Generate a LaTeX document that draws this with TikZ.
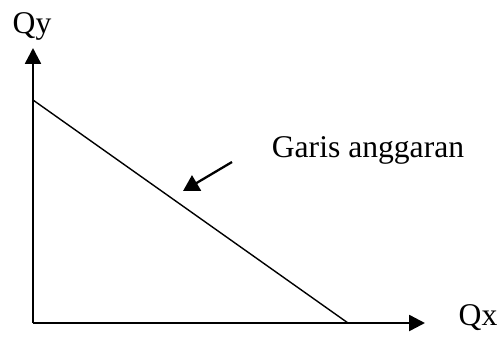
\documentclass[tikz,border=0pt]{standalone}
\usepackage{fontspec}
\setmainfont{Liberation Serif}
\usetikzlibrary{arrows.meta}

\begin{document}
\begin{tikzpicture}[x=0.02cm, y=-0.02cm,
  axis/.style={line width=1.4pt, -{Triangle[length=9pt,width=9pt]}},
  pointer/.style={line width=1.3pt, -{Triangle[length=9pt,width=10pt]}},
  lbl/.style={font=\fontsize{18}{22}\selectfont, inner sep=0pt, anchor=base}]
\useasboundingbox (0,0) rectangle (500,336);
% axes
\coordinate (o) at (33,323);
\coordinate (ytop) at (33,48);
\coordinate (xend) at (425,323);
\draw[axis] (o) -- (ytop);
\draw[axis] (o) -- (xend);
\node[lbl] (qy) at (32,33) {Qy};
\node[lbl] (qx) at (478,325) {Qx};
% budget line
\coordinate (ya) at (33,100);
\coordinate (xb) at (348,323);
\draw[line width=0.8pt] (ya) -- (xb);
\node[lbl] (garis) at (368,157) {Garis anggaran};
\coordinate (tail) at (232,162);
\coordinate (tip) at (183,191);
\draw[pointer] (tail) -- (tip);
\end{tikzpicture}
\end{document}
